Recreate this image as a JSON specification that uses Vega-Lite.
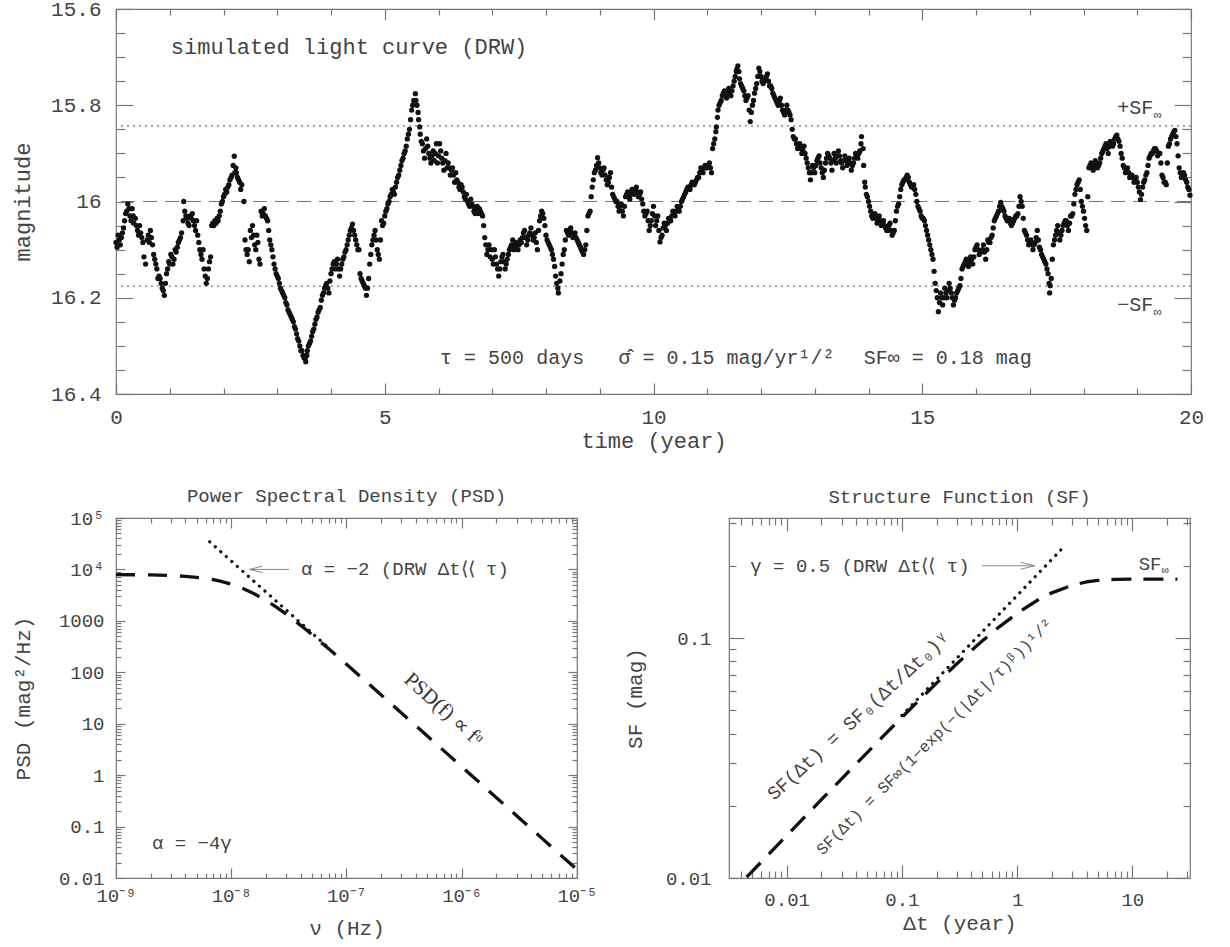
{
  "$schema": "https://vega.github.io/schema/vega-lite/v6.json",
  "padding": {"left": 10, "top": -3, "right": 10, "bottom": 5},
  "bounds": "flush",
  "spacing": 124,
  "config": {
    "font": "Liberation Mono",
    "view": {"stroke": "#777", "strokeWidth": 1.2},
    "axis": {"domain": false, "grid": false, "tickColor": "#777", "tickWidth": 1.2, "labelColor": "#444", "titleColor": "#444", "labelFont": "Liberation Mono", "titleFont": "Liberation Mono", "titleFontWeight": "normal", "labelFontSize": 20, "titleFontSize": 21, "labelFlush": false, "labelOverlap": false, "labelBound": false},
    "text": {"font": "Liberation Mono", "color": "#444"},
    "title": {"font": "Liberation Mono", "fontWeight": "normal", "fontSize": 19, "color": "#444"}
  },
  "vconcat": [
    {
      "width": 1075,
      "height": 385,
      "resolve": {"axis": {"x": "independent", "y": "independent"}},
      "layer": [
        {
          "data": {"values": [{"m": 16}]},
          "mark": {"type": "rule", "color": "#777", "strokeWidth": 1.2, "strokeDash": [14, 8]},
          "encoding": {"y": {"field": "m", "type": "quantitative", "scale": {"domain": [15.6, 16.4], "nice": false, "zero": false, "reverse": true}, "axis": null}}
        },
        {
          "data": {"values": [{"m": 15.843}, {"m": 16.176}]},
          "mark": {"type": "rule", "color": "#777", "strokeWidth": 1.2, "strokeDash": [2, 4]},
          "encoding": {"y": {"field": "m", "type": "quantitative", "scale": {"domain": [15.6, 16.4], "nice": false, "zero": false, "reverse": true}, "axis": null}}
        },
        {
          "data": {"values": [
            {"t":0.00,"m":16.085},{"t":0.04,"m":16.07},{"t":0.08,"m":16.09},{"t":0.12,"m":16.065},{"t":0.16,"m":16.04},{"t":0.20,"m":16.02},{"t":0.22,"m":16.005},{"t":0.26,"m":16.03},{"t":0.30,"m":16.015},{"t":0.33,"m":16.045},
            {"t":0.36,"m":16.035},{"t":0.40,"m":16.06},{"t":0.44,"m":16.05},{"t":0.48,"m":16.075},{"t":0.52,"m":16.115},{"t":0.55,"m":16.13},{"t":0.60,"m":16.07},{"t":0.64,"m":16.06},{"t":0.68,"m":16.09},{"t":0.72,"m":16.12},
            {"t":0.76,"m":16.14},{"t":0.80,"m":16.155},{"t":0.84,"m":16.17},{"t":0.88,"m":16.185},{"t":0.90,"m":16.195},{"t":0.94,"m":16.15},{"t":0.98,"m":16.125},{"t":1.02,"m":16.11},{"t":1.06,"m":16.13},{"t":1.10,"m":16.10},
            {"t":1.14,"m":16.095},{"t":1.18,"m":16.08},{"t":1.22,"m":16.065},{"t":1.25,"m":16.04},{"t":1.26,"m":16.0},{"t":1.30,"m":16.03},{"t":1.34,"m":16.045},{"t":1.38,"m":16.03},{"t":1.42,"m":16.025},{"t":1.46,"m":16.05},
            {"t":1.50,"m":16.04},{"t":1.54,"m":16.085},{"t":1.58,"m":16.11},{"t":1.62,"m":16.10},{"t":1.66,"m":16.155},{"t":1.68,"m":16.17},{"t":1.72,"m":16.14},{"t":1.76,"m":16.115},{"t":1.80,"m":16.045},{"t":1.84,"m":16.04},
            {"t":1.88,"m":16.035},{"t":1.92,"m":16.03},{"t":1.96,"m":16.005},{"t":2.00,"m":15.99},{"t":2.04,"m":15.975},{"t":2.08,"m":15.97},{"t":2.12,"m":15.955},{"t":2.16,"m":15.945},{"t":2.20,"m":15.906},{"t":2.23,"m":15.93},
            {"t":2.26,"m":15.95},{"t":2.30,"m":15.96},{"t":2.34,"m":15.965},{"t":2.38,"m":16.0},{"t":2.40,"m":16.08},{"t":2.44,"m":16.11},{"t":2.48,"m":16.125},{"t":2.50,"m":16.06},{"t":2.54,"m":16.05},{"t":2.58,"m":16.09},
            {"t":2.62,"m":16.07},{"t":2.66,"m":16.12},{"t":2.70,"m":16.02},{"t":2.74,"m":16.025},{"t":2.78,"m":16.03},{"t":2.82,"m":16.04},{"t":2.86,"m":16.08},{"t":2.90,"m":16.10},{"t":2.94,"m":16.13},{"t":2.98,"m":16.15},
            {"t":3.02,"m":16.16},{"t":3.06,"m":16.18},{"t":3.10,"m":16.19},{"t":3.14,"m":16.20},{"t":3.18,"m":16.215},{"t":3.22,"m":16.23},{"t":3.26,"m":16.24},{"t":3.30,"m":16.25},{"t":3.34,"m":16.265},{"t":3.38,"m":16.285},
            {"t":3.42,"m":16.30},{"t":3.46,"m":16.31},{"t":3.50,"m":16.325},{"t":3.53,"m":16.333},{"t":3.56,"m":16.31},{"t":3.60,"m":16.295},{"t":3.64,"m":16.28},{"t":3.68,"m":16.265},{"t":3.72,"m":16.245},{"t":3.76,"m":16.23},
            {"t":3.80,"m":16.22},{"t":3.84,"m":16.195},{"t":3.88,"m":16.18},{"t":3.92,"m":16.17},{"t":3.96,"m":16.19},{"t":4.00,"m":16.15},{"t":4.04,"m":16.13},{"t":4.08,"m":16.14},{"t":4.12,"m":16.12},{"t":4.16,"m":16.155},
            {"t":4.20,"m":16.13},{"t":4.24,"m":16.115},{"t":4.28,"m":16.10},{"t":4.32,"m":16.08},{"t":4.36,"m":16.06},{"t":4.40,"m":16.047},{"t":4.44,"m":16.07},{"t":4.48,"m":16.09},{"t":4.52,"m":16.10},{"t":4.56,"m":16.16},
            {"t":4.60,"m":16.17},{"t":4.64,"m":16.18},{"t":4.66,"m":16.195},{"t":4.70,"m":16.16},{"t":4.74,"m":16.11},{"t":4.78,"m":16.08},{"t":4.82,"m":16.06},{"t":4.86,"m":16.10},{"t":4.90,"m":16.12},{"t":4.94,"m":16.04},
            {"t":4.98,"m":16.045},{"t":5.02,"m":16.02},{"t":5.06,"m":16.005},{"t":5.10,"m":15.99},{"t":5.14,"m":15.975},{"t":5.18,"m":15.985},{"t":5.22,"m":15.96},{"t":5.26,"m":15.945},{"t":5.30,"m":15.925},{"t":5.34,"m":15.91},
            {"t":5.38,"m":15.895},{"t":5.42,"m":15.87},{"t":5.46,"m":15.85},{"t":5.50,"m":15.81},{"t":5.54,"m":15.79},{"t":5.57,"m":15.776},{"t":5.60,"m":15.80},{"t":5.63,"m":15.83},{"t":5.66,"m":15.86},{"t":5.70,"m":15.88},
            {"t":5.74,"m":15.91},{"t":5.78,"m":15.87},{"t":5.82,"m":15.90},{"t":5.86,"m":15.92},{"t":5.90,"m":15.895},{"t":5.94,"m":15.90},{"t":5.98,"m":15.92},{"t":6.02,"m":15.88},{"t":6.06,"m":15.91},{"t":6.10,"m":15.935},
            {"t":6.14,"m":15.90},{"t":6.18,"m":15.92},{"t":6.22,"m":15.945},{"t":6.26,"m":15.93},{"t":6.30,"m":15.96},{"t":6.34,"m":15.955},{"t":6.38,"m":15.97},{"t":6.42,"m":15.965},{"t":6.46,"m":15.98},{"t":6.50,"m":15.995},
            {"t":6.54,"m":16.0},{"t":6.58,"m":16.01},{"t":6.62,"m":16.005},{"t":6.66,"m":16.02},{"t":6.70,"m":16.015},{"t":6.74,"m":16.025},{"t":6.78,"m":16.02},{"t":6.82,"m":16.03},{"t":6.84,"m":16.05},{"t":6.88,"m":16.09},
            {"t":6.92,"m":16.10},{"t":6.96,"m":16.115},{"t":7.00,"m":16.12},{"t":7.04,"m":16.10},{"t":7.08,"m":16.13},{"t":7.12,"m":16.155},{"t":7.16,"m":16.125},{"t":7.20,"m":16.11},{"t":7.24,"m":16.14},{"t":7.28,"m":16.12},
            {"t":7.32,"m":16.10},{"t":7.36,"m":16.09},{"t":7.40,"m":16.10},{"t":7.44,"m":16.085},{"t":7.48,"m":16.10},{"t":7.52,"m":16.08},{"t":7.56,"m":16.075},{"t":7.60,"m":16.06},{"t":7.64,"m":16.09},{"t":7.68,"m":16.07},
            {"t":7.72,"m":16.055},{"t":7.76,"m":16.08},{"t":7.80,"m":16.065},{"t":7.84,"m":16.10},{"t":7.88,"m":16.04},{"t":7.92,"m":16.02},{"t":7.96,"m":16.035},{"t":8.00,"m":16.07},{"t":8.04,"m":16.085},{"t":8.08,"m":16.095},
            {"t":8.12,"m":16.11},{"t":8.16,"m":16.135},{"t":8.20,"m":16.17},{"t":8.23,"m":16.19},{"t":8.26,"m":16.165},{"t":8.30,"m":16.13},{"t":8.34,"m":16.10},{"t":8.38,"m":16.06},{"t":8.42,"m":16.07},{"t":8.46,"m":16.055},
            {"t":8.50,"m":16.075},{"t":8.54,"m":16.065},{"t":8.58,"m":16.08},{"t":8.62,"m":16.09},{"t":8.66,"m":16.10},{"t":8.70,"m":16.11},{"t":8.74,"m":16.09},{"t":8.78,"m":16.03},{"t":8.82,"m":16.02},{"t":8.86,"m":15.97},
            {"t":8.90,"m":15.94},{"t":8.94,"m":15.925},{"t":8.96,"m":15.909},{"t":9.00,"m":15.93},{"t":9.04,"m":15.945},{"t":9.08,"m":15.93},{"t":9.12,"m":15.955},{"t":9.16,"m":15.96},{"t":9.20,"m":15.94},{"t":9.24,"m":15.985},
            {"t":9.28,"m":15.995},{"t":9.32,"m":16.0},{"t":9.36,"m":16.02},{"t":9.40,"m":16.005},{"t":9.44,"m":16.03},{"t":9.48,"m":15.99},{"t":9.52,"m":15.98},{"t":9.56,"m":15.995},{"t":9.60,"m":15.975},{"t":9.64,"m":15.985},
            {"t":9.68,"m":15.97},{"t":9.72,"m":15.99},{"t":9.76,"m":15.98},{"t":9.80,"m":16.005},{"t":9.84,"m":16.03},{"t":9.88,"m":16.02},{"t":9.92,"m":16.06},{"t":9.96,"m":16.04},{"t":10.00,"m":16.01},{"t":10.04,"m":16.05},
            {"t":10.08,"m":16.03},{"t":10.12,"m":16.084},{"t":10.16,"m":16.07},{"t":10.20,"m":16.045},{"t":10.24,"m":16.06},{"t":10.28,"m":16.035},{"t":10.32,"m":16.04},{"t":10.36,"m":16.02},{"t":10.40,"m":16.03},{"t":10.44,"m":16.01},
            {"t":10.48,"m":16.02},{"t":10.52,"m":16.0},{"t":10.56,"m":15.99},{"t":10.60,"m":15.98},{"t":10.64,"m":15.97},{"t":10.68,"m":15.975},{"t":10.72,"m":15.96},{"t":10.76,"m":15.965},{"t":10.80,"m":15.955},{"t":10.84,"m":15.95},
            {"t":10.88,"m":15.93},{"t":10.92,"m":15.94},{"t":10.96,"m":15.925},{"t":11.00,"m":15.93},{"t":11.04,"m":15.92},{"t":11.08,"m":15.94},{"t":11.10,"m":15.89},{"t":11.14,"m":15.87},{"t":11.17,"m":15.845},{"t":11.20,"m":15.81},
            {"t":11.24,"m":15.795},{"t":11.28,"m":15.78},{"t":11.32,"m":15.77},{"t":11.36,"m":15.785},{"t":11.40,"m":15.765},{"t":11.44,"m":15.78},{"t":11.48,"m":15.76},{"t":11.52,"m":15.74},{"t":11.55,"m":15.725},{"t":11.57,"m":15.718},
            {"t":11.60,"m":15.745},{"t":11.64,"m":15.76},{"t":11.68,"m":15.77},{"t":11.72,"m":15.79},{"t":11.76,"m":15.78},{"t":11.80,"m":15.834},{"t":11.84,"m":15.80},{"t":11.88,"m":15.775},{"t":11.92,"m":15.755},{"t":11.96,"m":15.723},
            {"t":12.00,"m":15.74},{"t":12.04,"m":15.755},{"t":12.08,"m":15.745},{"t":12.12,"m":15.735},{"t":12.16,"m":15.76},{"t":12.20,"m":15.765},{"t":12.24,"m":15.78},{"t":12.28,"m":15.79},{"t":12.32,"m":15.80},{"t":12.36,"m":15.785},
            {"t":12.40,"m":15.81},{"t":12.44,"m":15.82},{"t":12.48,"m":15.80},{"t":12.52,"m":15.815},{"t":12.56,"m":15.83},{"t":12.60,"m":15.865},{"t":12.64,"m":15.87},{"t":12.68,"m":15.89},{"t":12.72,"m":15.88},{"t":12.76,"m":15.90},
            {"t":12.80,"m":15.885},{"t":12.84,"m":15.91},{"t":12.88,"m":15.93},{"t":12.92,"m":15.955},{"t":12.96,"m":15.925},{"t":13.00,"m":15.94},{"t":13.04,"m":15.915},{"t":13.08,"m":15.905},{"t":13.12,"m":15.93},{"t":13.16,"m":15.95},
            {"t":13.20,"m":15.92},{"t":13.24,"m":15.90},{"t":13.28,"m":15.91},{"t":13.32,"m":15.935},{"t":13.36,"m":15.90},{"t":13.40,"m":15.92},{"t":13.44,"m":15.895},{"t":13.48,"m":15.915},{"t":13.52,"m":15.93},{"t":13.56,"m":15.905},
            {"t":13.60,"m":15.925},{"t":13.64,"m":15.91},{"t":13.68,"m":15.935},{"t":13.72,"m":15.92},{"t":13.76,"m":15.90},{"t":13.80,"m":15.91},{"t":13.84,"m":15.895},{"t":13.87,"m":15.865},{"t":13.90,"m":15.89},{"t":13.93,"m":15.96},
            {"t":13.96,"m":15.985},{"t":14.00,"m":16.0},{"t":14.04,"m":16.02},{"t":14.08,"m":16.035},{"t":14.12,"m":16.025},{"t":14.16,"m":16.045},{"t":14.20,"m":16.03},{"t":14.24,"m":16.05},{"t":14.28,"m":16.04},{"t":14.32,"m":16.055},
            {"t":14.36,"m":16.06},{"t":14.40,"m":16.045},{"t":14.44,"m":16.07},{"t":14.48,"m":16.06},{"t":14.52,"m":16.02},{"t":14.56,"m":16.005},{"t":14.60,"m":15.975},{"t":14.64,"m":15.96},{"t":14.68,"m":15.955},{"t":14.72,"m":15.945},
            {"t":14.76,"m":15.96},{"t":14.80,"m":15.97},{"t":14.84,"m":15.965},{"t":14.88,"m":15.985},{"t":14.92,"m":16.01},{"t":14.96,"m":16.02},{"t":15.00,"m":16.035},{"t":15.04,"m":16.04},{"t":15.08,"m":16.06},{"t":15.12,"m":16.08},
            {"t":15.16,"m":16.10},{"t":15.20,"m":16.12},{"t":15.24,"m":16.17},{"t":15.28,"m":16.20},{"t":15.30,"m":16.229},{"t":15.34,"m":16.19},{"t":15.38,"m":16.215},{"t":15.42,"m":16.18},{"t":15.46,"m":16.20},{"t":15.50,"m":16.17},
            {"t":15.54,"m":16.19},{"t":15.58,"m":16.215},{"t":15.62,"m":16.20},{"t":15.66,"m":16.185},{"t":15.70,"m":16.175},{"t":15.74,"m":16.14},{"t":15.78,"m":16.13},{"t":15.82,"m":16.12},{"t":15.86,"m":16.135},{"t":15.90,"m":16.115},
            {"t":15.94,"m":16.13},{"t":15.98,"m":16.10},{"t":16.02,"m":16.09},{"t":16.06,"m":16.11},{"t":16.10,"m":16.105},{"t":16.14,"m":16.09},{"t":16.18,"m":16.12},{"t":16.22,"m":16.08},{"t":16.26,"m":16.085},{"t":16.30,"m":16.07},
            {"t":16.34,"m":16.04},{"t":16.38,"m":16.03},{"t":16.42,"m":16.02},{"t":16.46,"m":16.002},{"t":16.50,"m":16.015},{"t":16.54,"m":16.03},{"t":16.58,"m":16.04},{"t":16.62,"m":16.035},{"t":16.66,"m":16.05},{"t":16.70,"m":16.04},
            {"t":16.74,"m":16.03},{"t":16.78,"m":16.025},{"t":16.82,"m":15.99},{"t":16.86,"m":16.01},{"t":16.90,"m":16.06},{"t":16.94,"m":16.07},{"t":16.98,"m":16.09},{"t":17.02,"m":16.08},{"t":17.06,"m":16.10},{"t":17.10,"m":16.085},
            {"t":17.14,"m":16.06},{"t":17.18,"m":16.095},{"t":17.22,"m":16.11},{"t":17.26,"m":16.12},{"t":17.30,"m":16.13},{"t":17.34,"m":16.15},{"t":17.37,"m":16.19},{"t":17.40,"m":16.16},{"t":17.44,"m":16.09},{"t":17.48,"m":16.07},
            {"t":17.52,"m":16.05},{"t":17.56,"m":16.08},{"t":17.60,"m":16.06},{"t":17.64,"m":16.045},{"t":17.68,"m":16.04},{"t":17.72,"m":16.06},{"t":17.76,"m":16.03},{"t":17.80,"m":16.025},{"t":17.84,"m":15.985},{"t":17.88,"m":15.965},
            {"t":17.92,"m":15.955},{"t":17.96,"m":16.0},{"t":18.00,"m":16.02},{"t":18.04,"m":16.05},{"t":18.06,"m":16.06},{"t":18.10,"m":15.93},{"t":18.14,"m":15.92},{"t":18.18,"m":15.935},{"t":18.22,"m":15.915},{"t":18.26,"m":15.93},
            {"t":18.30,"m":15.92},{"t":18.34,"m":15.90},{"t":18.38,"m":15.89},{"t":18.42,"m":15.88},{"t":18.46,"m":15.90},{"t":18.50,"m":15.875},{"t":18.54,"m":15.885},{"t":18.58,"m":15.87},{"t":18.62,"m":15.862},{"t":18.66,"m":15.875},
            {"t":18.70,"m":15.90},{"t":18.74,"m":15.925},{"t":18.78,"m":15.94},{"t":18.82,"m":15.93},{"t":18.86,"m":15.95},{"t":18.90,"m":15.945},{"t":18.94,"m":15.96},{"t":18.98,"m":15.95},{"t":19.02,"m":15.97},{"t":19.06,"m":15.996},
            {"t":19.10,"m":15.97},{"t":19.14,"m":15.955},{"t":19.18,"m":15.94},{"t":19.22,"m":15.91},{"t":19.26,"m":15.90},{"t":19.30,"m":15.895},{"t":19.34,"m":15.89},{"t":19.38,"m":15.905},{"t":19.42,"m":15.90},{"t":19.46,"m":15.945},
            {"t":19.50,"m":15.96},{"t":19.54,"m":15.965},{"t":19.58,"m":15.885},{"t":19.62,"m":15.87},{"t":19.66,"m":15.86},{"t":19.70,"m":15.852},{"t":19.74,"m":15.88},{"t":19.78,"m":15.93},{"t":19.82,"m":15.95},{"t":19.86,"m":15.94},
            {"t":19.90,"m":15.955},{"t":19.94,"m":15.97},{"t":19.98,"m":15.987},
            {"t":0.02,"m":16.095},{"t":0.06,"m":16.08},{"t":0.10,"m":16.075},{"t":0.14,"m":16.055},{"t":0.18,"m":16.025},{"t":0.24,"m":16.015},{"t":0.28,"m":16.04},{"t":0.32,"m":16.03},{"t":0.38,"m":16.05},{"t":0.42,"m":16.07},
            {"t":0.46,"m":16.065},{"t":0.50,"m":16.085},{"t":0.58,"m":16.08},{"t":0.62,"m":16.085},{"t":0.66,"m":16.075},{"t":0.70,"m":16.11},{"t":0.74,"m":16.13},{"t":0.78,"m":16.16},{"t":0.82,"m":16.16},{"t":0.86,"m":16.18},
            {"t":0.92,"m":16.17},{"t":0.96,"m":16.14},{"t":1.00,"m":16.13},{"t":1.04,"m":16.115},{"t":1.08,"m":16.12},{"t":1.12,"m":16.105},{"t":1.16,"m":16.085},{"t":1.20,"m":16.075},{"t":1.28,"m":16.02},{"t":1.32,"m":16.035},
            {"t":1.36,"m":16.05},{"t":1.40,"m":16.035},{"t":1.44,"m":16.04},{"t":1.48,"m":16.06},{"t":1.52,"m":16.07},{"t":1.56,"m":16.10},{"t":1.60,"m":16.12},{"t":1.64,"m":16.14},{"t":1.70,"m":16.16},{"t":1.74,"m":16.125},
            {"t":1.78,"m":16.05},{"t":1.82,"m":16.05},{"t":1.86,"m":16.045},{"t":1.90,"m":16.04},{"t":1.94,"m":16.02},{"t":1.98,"m":16.0},{"t":2.02,"m":15.985},{"t":2.06,"m":15.98},{"t":2.10,"m":15.965},{"t":2.14,"m":15.95},
            {"t":2.18,"m":15.925},{"t":2.21,"m":15.94},{"t":2.24,"m":15.94},{"t":2.28,"m":15.955},{"t":2.32,"m":15.975},{"t":2.42,"m":16.10},{"t":2.46,"m":16.10},{"t":2.52,"m":16.075},{"t":2.56,"m":16.07},{"t":2.60,"m":16.10},
            {"t":2.64,"m":16.085},{"t":2.68,"m":16.13},{"t":2.72,"m":16.03},{"t":2.76,"m":16.015},{"t":2.80,"m":16.035},{"t":2.84,"m":16.06},{"t":2.88,"m":16.09},{"t":2.92,"m":16.115},{"t":2.96,"m":16.14},{"t":3.00,"m":16.155},
            {"t":3.04,"m":16.17},{"t":3.08,"m":16.185},{"t":3.12,"m":16.195},{"t":3.16,"m":16.21},{"t":3.20,"m":16.225},{"t":3.24,"m":16.235},{"t":3.28,"m":16.245},{"t":3.32,"m":16.26},{"t":3.36,"m":16.275},{"t":3.40,"m":16.29},
            {"t":3.44,"m":16.31},{"t":3.48,"m":16.32},{"t":3.52,"m":16.325},{"t":3.55,"m":16.32},{"t":3.58,"m":16.30},{"t":3.62,"m":16.29},{"t":3.66,"m":16.27},{"t":3.70,"m":16.255},{"t":3.74,"m":16.24},{"t":3.78,"m":16.225},
            {"t":3.82,"m":16.205},{"t":3.86,"m":16.19},{"t":3.90,"m":16.175},{"t":3.94,"m":16.18},{"t":3.98,"m":16.165},{"t":4.02,"m":16.14},{"t":4.06,"m":16.125},{"t":4.10,"m":16.13},{"t":4.14,"m":16.14},{"t":4.18,"m":16.14},
            {"t":4.22,"m":16.12},{"t":4.26,"m":16.105},{"t":4.30,"m":16.09},{"t":4.34,"m":16.07},{"t":4.38,"m":16.055},{"t":4.42,"m":16.06},{"t":4.46,"m":16.08},{"t":4.50,"m":16.10},{"t":4.54,"m":16.15},{"t":4.58,"m":16.165},
            {"t":4.62,"m":16.175},{"t":4.68,"m":16.18},{"t":4.72,"m":16.13},{"t":4.76,"m":16.09},{"t":4.80,"m":16.07},{"t":4.84,"m":16.08},{"t":4.88,"m":16.11},{"t":4.92,"m":16.08},{"t":4.96,"m":16.05},{"t":5.00,"m":16.03},
            {"t":5.04,"m":16.015},{"t":5.08,"m":16.0},{"t":5.12,"m":15.985},{"t":5.16,"m":15.98},{"t":5.20,"m":15.97},{"t":5.24,"m":15.95},{"t":5.28,"m":15.935},{"t":5.32,"m":15.915},{"t":5.36,"m":15.90},{"t":5.40,"m":15.885},
            {"t":5.44,"m":15.86},{"t":5.48,"m":15.83},{"t":5.52,"m":15.80},{"t":5.58,"m":15.79},{"t":5.62,"m":15.815},{"t":5.65,"m":15.845},{"t":5.68,"m":15.875},{"t":5.72,"m":15.895},{"t":5.76,"m":15.89},{"t":5.80,"m":15.885},
            {"t":5.84,"m":15.91},{"t":5.88,"m":15.905},{"t":5.92,"m":15.915},{"t":5.96,"m":15.88},{"t":6.00,"m":15.905},{"t":6.04,"m":15.895},{"t":6.08,"m":15.92},{"t":6.12,"m":15.915},{"t":6.16,"m":15.93},{"t":6.20,"m":15.93},
            {"t":6.24,"m":15.935},{"t":6.28,"m":15.945},{"t":6.32,"m":15.94},{"t":6.36,"m":15.96},{"t":6.40,"m":15.975},{"t":6.44,"m":15.97},{"t":6.48,"m":15.99},{"t":6.52,"m":15.985},{"t":6.56,"m":16.005},{"t":6.60,"m":15.995},
            {"t":6.64,"m":16.01},{"t":6.68,"m":16.025},{"t":6.72,"m":16.01},{"t":6.76,"m":16.015},{"t":6.80,"m":16.025},{"t":6.86,"m":16.075},{"t":6.90,"m":16.11},{"t":6.94,"m":16.09},{"t":6.98,"m":16.10},{"t":7.02,"m":16.13},
            {"t":7.06,"m":16.115},{"t":7.10,"m":16.14},{"t":7.14,"m":16.14},{"t":7.18,"m":16.115},{"t":7.22,"m":16.125},{"t":7.26,"m":16.13},{"t":7.30,"m":16.11},{"t":7.34,"m":16.095},{"t":7.38,"m":16.08},{"t":7.42,"m":16.095},
            {"t":7.46,"m":16.09},{"t":7.50,"m":16.09},{"t":7.54,"m":16.085},{"t":7.58,"m":16.065},{"t":7.62,"m":16.075},{"t":7.66,"m":16.08},{"t":7.70,"m":16.065},{"t":7.74,"m":16.07},{"t":7.78,"m":16.075},{"t":7.82,"m":16.085},
            {"t":7.86,"m":16.06},{"t":7.90,"m":16.03},{"t":7.94,"m":16.025},{"t":7.98,"m":16.05},{"t":8.02,"m":16.08},{"t":8.06,"m":16.09},{"t":8.10,"m":16.10},{"t":8.14,"m":16.12},{"t":8.18,"m":16.155},{"t":8.22,"m":16.18},
            {"t":8.28,"m":16.15},{"t":8.32,"m":16.11},{"t":8.36,"m":16.08},{"t":8.40,"m":16.065},{"t":8.44,"m":16.06},{"t":8.48,"m":16.065},{"t":8.52,"m":16.07},{"t":8.56,"m":16.075},{"t":8.60,"m":16.085},{"t":8.64,"m":16.095},
            {"t":8.68,"m":16.105},{"t":8.72,"m":16.10},{"t":8.76,"m":16.06},{"t":8.80,"m":16.025},{"t":8.84,"m":15.99},{"t":8.88,"m":15.955},{"t":8.92,"m":15.935},{"t":8.98,"m":15.92},{"t":9.02,"m":15.94},{"t":9.06,"m":15.935},
            {"t":9.10,"m":15.945},{"t":9.14,"m":15.965},{"t":9.18,"m":15.95},{"t":9.22,"m":15.97},{"t":9.26,"m":15.99},{"t":9.30,"m":16.0},{"t":9.34,"m":16.01},{"t":9.38,"m":16.01},{"t":9.42,"m":16.02},{"t":9.46,"m":16.01},
            {"t":9.50,"m":15.985},{"t":9.54,"m":15.99},{"t":9.58,"m":15.985},{"t":9.62,"m":15.98},{"t":9.66,"m":15.975},{"t":9.70,"m":15.98},{"t":9.74,"m":15.985},{"t":9.78,"m":15.995},{"t":9.82,"m":16.02},{"t":9.86,"m":16.025},
            {"t":9.90,"m":16.04},{"t":9.94,"m":16.05},{"t":9.98,"m":16.025},{"t":10.02,"m":16.03},{"t":10.06,"m":16.04},{"t":10.10,"m":16.06},{"t":10.14,"m":16.075},{"t":10.18,"m":16.055},{"t":10.22,"m":16.05},{"t":10.26,"m":16.045},
            {"t":10.30,"m":16.04},{"t":10.34,"m":16.03},{"t":10.38,"m":16.025},{"t":10.42,"m":16.02},{"t":10.46,"m":16.015},{"t":10.50,"m":16.01},{"t":10.54,"m":15.995},{"t":10.58,"m":15.985},{"t":10.62,"m":15.975},{"t":10.66,"m":15.97},
            {"t":10.70,"m":15.965},{"t":10.74,"m":15.965},{"t":10.78,"m":15.96},{"t":10.82,"m":15.95},{"t":10.86,"m":15.94},{"t":10.90,"m":15.935},{"t":10.94,"m":15.93},{"t":10.98,"m":15.93},{"t":11.02,"m":15.925},{"t":11.06,"m":15.93},
            {"t":11.12,"m":15.88},{"t":11.16,"m":15.855},{"t":11.19,"m":15.825},{"t":11.22,"m":15.80},{"t":11.26,"m":15.79},{"t":11.30,"m":15.775},{"t":11.34,"m":15.78},{"t":11.38,"m":15.775},{"t":11.42,"m":15.77},{"t":11.46,"m":15.77},
            {"t":11.50,"m":15.75},{"t":11.54,"m":15.73},{"t":11.59,"m":15.73},{"t":11.62,"m":15.755},{"t":11.66,"m":15.765},{"t":11.70,"m":15.78},{"t":11.74,"m":15.785},{"t":11.78,"m":15.81},{"t":11.82,"m":15.815},{"t":11.86,"m":15.79},
            {"t":11.90,"m":15.765},{"t":11.94,"m":15.74},{"t":11.98,"m":15.73},{"t":12.02,"m":15.75},{"t":12.06,"m":15.75},{"t":12.10,"m":15.74},{"t":12.14,"m":15.75},{"t":12.18,"m":15.76},{"t":12.22,"m":15.775},{"t":12.26,"m":15.785},
            {"t":12.30,"m":15.795},{"t":12.34,"m":15.79},{"t":12.38,"m":15.80},{"t":12.42,"m":15.815},{"t":12.46,"m":15.81},{"t":12.50,"m":15.81},{"t":12.54,"m":15.82},{"t":12.58,"m":15.85},{"t":12.62,"m":15.87},{"t":12.66,"m":15.88},
            {"t":12.70,"m":15.885},{"t":12.74,"m":15.89},{"t":12.78,"m":15.895},{"t":12.82,"m":15.90},{"t":12.86,"m":15.92},{"t":12.90,"m":15.94},{"t":12.94,"m":15.94},{"t":12.98,"m":15.93},{"t":13.02,"m":15.925},{"t":13.06,"m":15.91},
            {"t":13.10,"m":15.92},{"t":13.14,"m":15.94},{"t":13.18,"m":15.935},{"t":13.22,"m":15.91},{"t":13.26,"m":15.905},{"t":13.30,"m":15.92},{"t":13.34,"m":15.915},{"t":13.38,"m":15.91},{"t":13.42,"m":15.905},{"t":13.46,"m":15.905},
            {"t":13.50,"m":15.92},{"t":13.54,"m":15.915},{"t":13.58,"m":15.915},{"t":13.62,"m":15.915},{"t":13.66,"m":15.92},{"t":13.70,"m":15.925},{"t":13.74,"m":15.91},{"t":13.78,"m":15.905},{"t":13.82,"m":15.90},{"t":13.86,"m":15.88},
            {"t":13.91,"m":15.925},{"t":13.94,"m":15.97},{"t":13.98,"m":15.99},{"t":14.02,"m":16.01},{"t":14.06,"m":16.03},{"t":14.10,"m":16.03},{"t":14.14,"m":16.035},{"t":14.18,"m":16.04},{"t":14.22,"m":16.04},{"t":14.26,"m":16.045},
            {"t":14.30,"m":16.05},{"t":14.34,"m":16.06},{"t":14.38,"m":16.05},{"t":14.42,"m":16.06},{"t":14.46,"m":16.065},{"t":14.50,"m":16.04},{"t":14.54,"m":16.01},{"t":14.58,"m":15.99},{"t":14.62,"m":15.965},{"t":14.66,"m":15.955},
            {"t":14.70,"m":15.95},{"t":14.74,"m":15.95},{"t":14.78,"m":15.965},{"t":14.82,"m":15.97},{"t":14.86,"m":15.975},{"t":14.90,"m":16.0},{"t":14.94,"m":16.015},{"t":14.98,"m":16.03},{"t":15.02,"m":16.035},{"t":15.06,"m":16.05},
            {"t":15.10,"m":16.07},{"t":15.14,"m":16.09},{"t":15.18,"m":16.11},{"t":15.22,"m":16.145},{"t":15.26,"m":16.185},{"t":15.32,"m":16.21},{"t":15.36,"m":16.20},{"t":15.40,"m":16.20},{"t":15.44,"m":16.19},{"t":15.48,"m":16.185},
            {"t":15.52,"m":16.18},{"t":15.56,"m":16.20},{"t":15.60,"m":16.205},{"t":15.64,"m":16.19},{"t":15.68,"m":16.18},{"t":15.72,"m":16.16},{"t":15.76,"m":16.135},{"t":15.80,"m":16.125},{"t":15.84,"m":16.125},{"t":15.88,"m":16.125},
            {"t":15.92,"m":16.12},{"t":15.96,"m":16.115},{"t":16.00,"m":16.095},{"t":16.04,"m":16.10},{"t":16.08,"m":16.105},{"t":16.12,"m":16.10},{"t":16.16,"m":16.105},{"t":16.20,"m":16.10},{"t":16.24,"m":16.085},{"t":16.28,"m":16.075},
            {"t":16.32,"m":16.055},{"t":16.36,"m":16.035},{"t":16.40,"m":16.025},{"t":16.44,"m":16.01},{"t":16.48,"m":16.01},{"t":16.52,"m":16.02},{"t":16.56,"m":16.035},{"t":16.60,"m":16.035},{"t":16.64,"m":16.045},{"t":16.68,"m":16.045},
            {"t":16.72,"m":16.035},{"t":16.76,"m":16.03},{"t":16.80,"m":16.01},{"t":16.84,"m":16.0},{"t":16.88,"m":16.035},{"t":16.92,"m":16.065},{"t":16.96,"m":16.08},{"t":17.00,"m":16.085},{"t":17.04,"m":16.09},{"t":17.08,"m":16.09},
            {"t":17.12,"m":16.075},{"t":17.16,"m":16.08},{"t":17.20,"m":16.10},{"t":17.24,"m":16.115},{"t":17.28,"m":16.125},{"t":17.32,"m":16.14},{"t":17.36,"m":16.17},{"t":17.38,"m":16.175},{"t":17.42,"m":16.12},{"t":17.46,"m":16.08},
            {"t":17.50,"m":16.06},{"t":17.54,"m":16.065},{"t":17.58,"m":16.07},{"t":17.62,"m":16.05},{"t":17.66,"m":16.04},{"t":17.70,"m":16.05},{"t":17.74,"m":16.045},{"t":17.78,"m":16.03},{"t":17.82,"m":16.005},{"t":17.86,"m":15.975},
            {"t":17.90,"m":15.96},{"t":17.94,"m":15.975},{"t":17.98,"m":16.01},{"t":18.02,"m":16.035},{"t":18.08,"m":15.99},{"t":18.12,"m":15.925},{"t":18.16,"m":15.93},{"t":18.20,"m":15.925},{"t":18.24,"m":15.92},{"t":18.28,"m":15.925},
            {"t":18.32,"m":15.91},{"t":18.36,"m":15.895},{"t":18.40,"m":15.885},{"t":18.44,"m":15.89},{"t":18.48,"m":15.885},{"t":18.52,"m":15.88},{"t":18.56,"m":15.88},{"t":18.60,"m":15.865},{"t":18.64,"m":15.87},{"t":18.68,"m":15.885},
            {"t":18.72,"m":15.91},{"t":18.76,"m":15.93},{"t":18.80,"m":15.935},{"t":18.84,"m":15.94},{"t":18.88,"m":15.945},{"t":18.92,"m":15.95},{"t":18.96,"m":15.955},{"t":19.00,"m":15.96},{"t":19.04,"m":15.98},{"t":19.08,"m":15.985},
            {"t":19.12,"m":15.96},{"t":19.16,"m":15.945},{"t":19.20,"m":15.925},{"t":19.24,"m":15.905},{"t":19.28,"m":15.90},{"t":19.32,"m":15.89},{"t":19.36,"m":15.895},{"t":19.40,"m":15.90},{"t":19.44,"m":15.92},{"t":19.48,"m":15.95},
            {"t":19.52,"m":15.96},{"t":19.56,"m":15.92},{"t":19.60,"m":15.88},{"t":19.64,"m":15.865},{"t":19.68,"m":15.855},{"t":19.72,"m":15.865},{"t":19.76,"m":15.905},{"t":19.80,"m":15.94},{"t":19.84,"m":15.945},{"t":19.88,"m":15.945},
            {"t":19.92,"m":15.96},{"t":19.96,"m":15.975}
          ]},
          "mark": {"type": "circle", "size": 28, "color": "#111", "opacity": 1},
          "encoding": {
            "x": {"field": "t", "type": "quantitative", "scale": {"domain": [0, 20], "nice": false, "zero": false},
                  "axis": {"orient": "bottom", "values": [0, 5, 10, 15, 20], "tickSize": -11, "labelPadding": 23, "labelExpr": "'' + datum.value", "labelFontSize": 21, "title": "time (year)", "titleFontSize": 22, "titlePadding": 3}},
            "y": {"field": "m", "type": "quantitative", "scale": {"domain": [15.6, 16.4], "nice": false, "zero": false, "reverse": true},
                  "axis": {"orient": "left", "values": [15.6, 15.8, 16, 16.2, 16.4], "tickSize": -17, "labelPadding": 32, "labelExpr": "'' + datum.value", "labelFontSize": 21, "title": "magnitude", "titleFontSize": 22, "titlePadding": 16}}
          }
        },
        {
          "data": {"values": [{"x": 1.02, "y": 15.678, "label": "simulated light curve (DRW)"}]},
          "mark": {"type": "text", "align": "left", "baseline": "middle", "fontSize": 22},
          "encoding": {
            "text": {"field": "label"},
            "x": {"field": "x", "type": "quantitative", "scale": {"domain": [0, 20], "nice": false, "zero": false},
                  "axis": {"orient": "bottom", "values": [1, 2, 3, 4, 6, 7, 8, 9, 11, 12, 13, 14, 16, 17, 18, 19], "tickSize": -6, "labels": false, "title": null}},
            "y": {"field": "y", "type": "quantitative", "scale": {"domain": [15.6, 16.4], "nice": false, "zero": false, "reverse": true},
                  "axis": {"orient": "left", "values": [15.65, 15.7, 15.75, 15.85, 15.9, 15.95, 16.05, 16.1, 16.15, 16.25, 16.3, 16.35], "tickSize": -9, "labels": false, "title": null}}
          }
        },
        {
          "data": {"values": [
            {"x": 6.03, "y": 16.325, "label": "τ = 500 days"},
            {"x": 9.35, "y": 16.325, "label": "σ̂ = 0.15 mag/yr¹/²"},
            {"x": 13.91, "y": 16.325, "label": "SF∞ = 0.18 mag"}
          ]},
          "mark": {"type": "text", "align": "left", "baseline": "middle", "fontSize": 20},
          "encoding": {
            "text": {"field": "label"},
            "x": {"field": "x", "type": "quantitative", "scale": {"domain": [0, 20], "nice": false, "zero": false},
                  "axis": {"orient": "top", "values": [0, 5, 10, 15, 20], "tickSize": -11, "labels": false, "title": null}},
            "y": {"field": "y", "type": "quantitative", "scale": {"domain": [15.6, 16.4], "nice": false, "zero": false, "reverse": true},
                  "axis": {"orient": "right", "values": [15.6, 15.8, 16, 16.2, 16.4], "tickSize": -17, "labels": false, "title": null}}
          }
        },
        {
          "data": {"values": [
            {"x": 19.3, "y": 15.806, "label": "+SF"},
            {"x": 19.3, "y": 16.215, "label": "−SF"}
          ]},
          "mark": {"type": "text", "align": "right", "baseline": "middle", "fontSize": 20},
          "encoding": {
            "text": {"field": "label"},
            "x": {"field": "x", "type": "quantitative", "scale": {"domain": [0, 20], "nice": false, "zero": false},
                  "axis": {"orient": "top", "values": [1, 2, 3, 4, 6, 7, 8, 9, 11, 12, 13, 14, 16, 17, 18, 19], "tickSize": -6, "labels": false, "title": null}},
            "y": {"field": "y", "type": "quantitative", "scale": {"domain": [15.6, 16.4], "nice": false, "zero": false, "reverse": true},
                  "axis": {"orient": "right", "values": [15.65, 15.7, 15.75, 15.85, 15.9, 15.95, 16.05, 16.1, 16.15, 16.25, 16.3, 16.35], "tickSize": -9, "labels": false, "title": null}}
          }
        },
        {
          "data": {"values": [{"x": 19.3, "y": 15.821}, {"x": 19.3, "y": 16.23}]},
          "mark": {"type": "text", "align": "left", "baseline": "middle", "fontSize": 13, "text": "∞"},
          "encoding": {
            "x": {"field": "x", "type": "quantitative", "scale": {"domain": [0, 20], "nice": false, "zero": false}, "axis": null},
            "y": {"field": "y", "type": "quantitative", "scale": {"domain": [15.6, 16.4], "nice": false, "zero": false, "reverse": true}, "axis": null}
          }
        }
      ]
    },
    {
      "bounds": "flush",
      "spacing": 152,
      "hconcat": [
        {
          "title": {"text": "Power Spectral Density (PSD)", "offset": 3},
          "width": 461,
          "height": 360,
          "resolve": {"axis": {"x": "independent", "y": "independent"}},
          "layer": [
            {
              "data": {"values": [
                {"f": 1e-9, "p": 7956}, {"f": 2e-9, "p": 7828}, {"f": 3e-9, "p": 7623}, {"f": 4e-9, "p": 7354}, {"f": 5e-9, "p": 7035},
                {"f": 6e-9, "p": 6680}, {"f": 7e-9, "p": 6305}, {"f": 8e-9, "p": 5920}, {"f": 1e-8, "p": 5166}, {"f": 1.2e-8, "p": 4469},
                {"f": 1.5e-8, "p": 3580}, {"f": 2e-8, "p": 2504}, {"f": 2.5e-8, "p": 1806}, {"f": 3e-8, "p": 1347}, {"f": 4e-8, "p": 818},
                {"f": 5e-8, "p": 543}, {"f": 7e-8, "p": 287}, {"f": 1e-7, "p": 143.2}, {"f": 2e-7, "p": 36.3}, {"f": 5e-7, "p": 5.83},
                {"f": 1e-6, "p": 1.458}, {"f": 2e-6, "p": 0.3645}, {"f": 5e-6, "p": 0.0583}, {"f": 1e-5, "p": 0.01458}
              ]},
              "mark": {"type": "line", "color": "#111", "strokeWidth": 3.3, "strokeDash": [19, 13]},
              "encoding": {
                "x": {"field": "f", "type": "quantitative", "scale": {"type": "log", "domain": [1e-9, 1e-5], "nice": false},
                      "axis": {"orient": "bottom", "values": [1e-9, 1e-8, 1e-7, 1e-6, 1e-5], "tickSize": -10, "labelPadding": 18, "labelFontSize": 19,
                               "labelExpr": "'10⁻' + ['⁰','¹','²','³','⁴','⁵','⁶','⁷','⁸','⁹'][-round(log(datum.value)/LN10)]",
                               "title": "ν (Hz)", "titlePadding": 12}},
                "y": {"field": "p", "type": "quantitative", "scale": {"type": "log", "domain": [0.01, 100000], "nice": false},
                      "axis": {"orient": "left", "values": [0.01, 0.1, 1, 10, 100, 1000, 10000, 100000], "tickSize": -9, "labelPadding": 21, "labelFontSize": 19,
                               "labelExpr": "datum.value >= 100000 ? '10⁵' : datum.value >= 10000 ? '10⁴' : '' + datum.value",
                               "title": "PSD (mag²/Hz)", "titlePadding": 25}}
              }
            },
            {
              "data": {"values": [{"f": 6.5e-9, "p": 34500}, {"f": 1e-8, "p": 14580}, {"f": 2e-8, "p": 3645}, {"f": 4e-8, "p": 911}, {"f": 7e-8, "p": 297.6}]},
              "mark": {"type": "line", "color": "#111", "strokeWidth": 3.2, "strokeDash": [0.1, 7.3], "strokeCap": "round"},
              "encoding": {
                "x": {"field": "f", "type": "quantitative", "scale": {"type": "log", "domain": [1e-9, 1e-5], "nice": false},
                      "axis": {"orient": "bottom", "values": [2e-9,3e-9,4e-9,5e-9,6e-9,7e-9,8e-9,9e-9,2e-8,3e-8,4e-8,5e-8,6e-8,7e-8,8e-8,9e-8,2e-7,3e-7,4e-7,5e-7,6e-7,7e-7,8e-7,9e-7,2e-6,3e-6,4e-6,5e-6,6e-6,7e-6,8e-6,9e-6], "tickSize": -5, "labels": false, "title": null}},
                "y": {"field": "p", "type": "quantitative", "scale": {"type": "log", "domain": [0.01, 100000], "nice": false},
                      "axis": {"orient": "left", "values": [0.02,0.03,0.04,0.05,0.06,0.07,0.08,0.09,0.2,0.3,0.4,0.5,0.6,0.7,0.8,0.9,2,3,4,5,6,7,8,9,20,30,40,50,60,70,80,90,200,300,400,500,600,700,800,900,2000,3000,4000,5000,6000,7000,8000,9000,20000,30000,40000,50000,60000,70000,80000,90000], "tickSize": -5, "labels": false, "title": null}}
              }
            },
            {
              "data": {"values": [{"f1": 1.44e-8, "f2": 3.17e-8, "p": 10000}]},
              "mark": {"type": "rule", "color": "#888", "strokeWidth": 1},
              "encoding": {
                "x": {"field": "f1", "type": "quantitative", "scale": {"type": "log", "domain": [1e-9, 1e-5], "nice": false},
                      "axis": {"orient": "top", "values": [1e-9, 1e-8, 1e-7, 1e-6, 1e-5], "tickSize": -10, "labels": false, "title": null}},
                "x2": {"field": "f2"},
                "y": {"field": "p", "type": "quantitative", "scale": {"type": "log", "domain": [0.01, 100000], "nice": false},
                      "axis": {"orient": "right", "values": [0.01, 0.1, 1, 10, 100, 1000, 10000, 100000], "tickSize": -9, "labels": false, "title": null}}
              }
            },
            {
              "data": {"values": [{"f": 1.44e-8, "p": 10000}]},
              "mark": {"type": "point", "shape": "M2,-0.5L0,0L2,0.5", "size": 169, "filled": false, "color": "#888", "strokeWidth": 1, "opacity": 1},
              "encoding": {
                "x": {"field": "f", "type": "quantitative", "scale": {"type": "log", "domain": [1e-9, 1e-5], "nice": false},
                      "axis": {"orient": "top", "values": [2e-9,3e-9,4e-9,5e-9,6e-9,7e-9,8e-9,9e-9,2e-8,3e-8,4e-8,5e-8,6e-8,7e-8,8e-8,9e-8,2e-7,3e-7,4e-7,5e-7,6e-7,7e-7,8e-7,9e-7,2e-6,3e-6,4e-6,5e-6,6e-6,7e-6,8e-6,9e-6], "tickSize": -5, "labels": false, "title": null}},
                "y": {"field": "p", "type": "quantitative", "scale": {"type": "log", "domain": [0.01, 100000], "nice": false},
                      "axis": {"orient": "right", "values": [0.02,0.03,0.04,0.05,0.06,0.07,0.08,0.09,0.2,0.3,0.4,0.5,0.6,0.7,0.8,0.9,2,3,4,5,6,7,8,9,20,30,40,50,60,70,80,90,200,300,400,500,600,700,800,900,2000,3000,4000,5000,6000,7000,8000,9000,20000,30000,40000,50000,60000,70000,80000,90000], "tickSize": -5, "labels": false, "title": null}}
              }
            },
            {
              "data": {"values": [
                {"f": 4.03e-8, "p": 10000, "label": "α = −2 (DRW Δt⟨⟨ τ)"},
                {"f": 2.05e-9, "p": 0.049, "label": "α = −4γ"}
              ]},
              "mark": {"type": "text", "align": "left", "baseline": "middle", "fontSize": 19},
              "encoding": {
                "text": {"field": "label"},
                "x": {"field": "f", "type": "quantitative", "scale": {"type": "log", "domain": [1e-9, 1e-5], "nice": false}, "axis": null},
                "y": {"field": "p", "type": "quantitative", "scale": {"type": "log", "domain": [0.01, 100000], "nice": false}, "axis": null}
              }
            },
            {
              "data": {"values": [{"f": 6.95e-7, "p": 18.7, "label": "PSD(f) ∝ fᵅ"}]},
              "mark": {"type": "text", "align": "center", "baseline": "middle", "fontSize": 21, "font": "Liberation Serif", "angle": 42, "color": "#333"},
              "encoding": {
                "text": {"field": "label"},
                "x": {"field": "f", "type": "quantitative", "scale": {"type": "log", "domain": [1e-9, 1e-5], "nice": false}, "axis": null},
                "y": {"field": "p", "type": "quantitative", "scale": {"type": "log", "domain": [0.01, 100000], "nice": false}, "axis": null}
              }
            }
          ]
        },
        {
          "title": {"text": "Structure Function (SF)", "offset": 10},
          "width": 461,
          "height": 360,
          "resolve": {"axis": {"x": "independent", "y": "independent"}},
          "layer": [
            {
              "data": {"values": [
                {"d": 0.0045, "s": 0.01008}, {"d": 0.006, "s": 0.01164}, {"d": 0.01, "s": 0.01501}, {"d": 0.02, "s": 0.02119}, {"d": 0.03, "s": 0.0259},
                {"d": 0.05, "s": 0.03332}, {"d": 0.07, "s": 0.03928}, {"d": 0.1, "s": 0.0467}, {"d": 0.15, "s": 0.05667}, {"d": 0.2, "s": 0.06486},
                {"d": 0.3, "s": 0.07806}, {"d": 0.4, "s": 0.08856}, {"d": 0.5, "s": 0.09733}, {"d": 0.7, "s": 0.1113}, {"d": 1, "s": 0.1267},
                {"d": 1.5, "s": 0.1436}, {"d": 2, "s": 0.1542}, {"d": 3, "s": 0.1659}, {"d": 4, "s": 0.1712}, {"d": 5, "s": 0.1737},
                {"d": 7, "s": 0.1755}, {"d": 10, "s": 0.1759}, {"d": 15, "s": 0.176}, {"d": 24.6, "s": 0.176}
              ]},
              "mark": {"type": "line", "color": "#111", "strokeWidth": 3.3, "strokeDash": [20, 12]},
              "encoding": {
                "x": {"field": "d", "type": "quantitative", "scale": {"type": "log", "domain": [0.0031623, 31.623], "nice": false},
                      "axis": {"orient": "bottom", "values": [0.01, 0.1, 1, 10], "tickSize": -13, "labelPadding": 25, "labelFontSize": 19, "labelExpr": "'' + datum.value", "title": "Δt (year)", "titlePadding": 3}},
                "y": {"field": "s", "type": "quantitative", "scale": {"type": "log", "domain": [0.01, 0.31623], "nice": false},
                      "axis": {"orient": "left", "values": [0.01, 0.1], "tickSize": -15, "labelPadding": 33, "labelFontSize": 19, "labelExpr": "'' + datum.value", "title": "SF (mag)", "titlePadding": 20}}
              }
            },
            {
              "data": {"values": [
                {"d": 0.1, "s": 0.04756}, {"d": 0.2, "s": 0.06726}, {"d": 0.3, "s": 0.08238}, {"d": 0.5, "s": 0.1063}, {"d": 0.7, "s": 0.1258},
                {"d": 1, "s": 0.1504}, {"d": 1.5, "s": 0.1842}, {"d": 2, "s": 0.2127}, {"d": 2.54, "s": 0.2397}
              ]},
              "mark": {"type": "line", "color": "#111", "strokeWidth": 3.2, "strokeDash": [0.1, 7.3], "strokeCap": "round"},
              "encoding": {
                "x": {"field": "d", "type": "quantitative", "scale": {"type": "log", "domain": [0.0031623, 31.623], "nice": false},
                      "axis": {"orient": "bottom", "values": [0.004,0.005,0.006,0.007,0.008,0.009,0.02,0.03,0.04,0.05,0.06,0.07,0.08,0.09,0.2,0.3,0.4,0.5,0.6,0.7,0.8,0.9,2,3,4,5,6,7,8,9,20,30], "tickSize": -7, "labels": false, "title": null}},
                "y": {"field": "s", "type": "quantitative", "scale": {"type": "log", "domain": [0.01, 0.31623], "nice": false},
                      "axis": {"orient": "left", "values": [0.02,0.03,0.04,0.05,0.06,0.07,0.08,0.09,0.2,0.3], "tickSize": -7, "labels": false, "title": null}}
              }
            },
            {
              "data": {"values": [{"d1": 0.495, "d2": 1.42, "s": 0.2}]},
              "mark": {"type": "rule", "color": "#888", "strokeWidth": 1},
              "encoding": {
                "x": {"field": "d1", "type": "quantitative", "scale": {"type": "log", "domain": [0.0031623, 31.623], "nice": false},
                      "axis": {"orient": "top", "values": [0.01, 0.1, 1, 10], "tickSize": -13, "labels": false, "title": null}},
                "x2": {"field": "d2"},
                "y": {"field": "s", "type": "quantitative", "scale": {"type": "log", "domain": [0.01, 0.31623], "nice": false},
                      "axis": {"orient": "right", "values": [0.01, 0.1], "tickSize": -15, "labels": false, "title": null}}
              }
            },
            {
              "data": {"values": [{"d": 1.42, "s": 0.2}]},
              "mark": {"type": "point", "shape": "M-2,-0.5L0,0L-2,0.5", "size": 196, "filled": false, "color": "#888", "strokeWidth": 1, "opacity": 1},
              "encoding": {
                "x": {"field": "d", "type": "quantitative", "scale": {"type": "log", "domain": [0.0031623, 31.623], "nice": false},
                      "axis": {"orient": "top", "values": [0.004,0.005,0.006,0.007,0.008,0.009,0.02,0.03,0.04,0.05,0.06,0.07,0.08,0.09,0.2,0.3,0.4,0.5,0.6,0.7,0.8,0.9,2,3,4,5,6,7,8,9,20,30], "tickSize": -7, "labels": false, "title": null}},
                "y": {"field": "s", "type": "quantitative", "scale": {"type": "log", "domain": [0.01, 0.31623], "nice": false},
                      "axis": {"orient": "right", "values": [0.02,0.03,0.04,0.05,0.06,0.07,0.08,0.09,0.2,0.3], "tickSize": -7, "labels": false, "title": null}}
              }
            },
            {
              "data": {"values": [{"d": 0.00484, "s": 0.2, "label": "γ = 0.5 (DRW Δt⟨⟨ τ)"}]},
              "mark": {"type": "text", "align": "left", "baseline": "middle", "fontSize": 19},
              "encoding": {
                "text": {"field": "label"},
                "x": {"field": "d", "type": "quantitative", "scale": {"type": "log", "domain": [0.0031623, 31.623], "nice": false}, "axis": null},
                "y": {"field": "s", "type": "quantitative", "scale": {"type": "log", "domain": [0.01, 0.31623], "nice": false}, "axis": null}
              }
            },
            {
              "data": {"values": [{"d": 17.9, "s": 0.2035, "label": "SF"}]},
              "mark": {"type": "text", "align": "right", "baseline": "middle", "fontSize": 19},
              "encoding": {
                "text": {"field": "label"},
                "x": {"field": "d", "type": "quantitative", "scale": {"type": "log", "domain": [0.0031623, 31.623], "nice": false}, "axis": null},
                "y": {"field": "s", "type": "quantitative", "scale": {"type": "log", "domain": [0.01, 0.31623], "nice": false}, "axis": null}
              }
            },
            {
              "data": {"values": [{"d": 17.9, "s": 0.1929}]},
              "mark": {"type": "text", "align": "left", "baseline": "middle", "fontSize": 12, "text": "∞"},
              "encoding": {
                "x": {"field": "d", "type": "quantitative", "scale": {"type": "log", "domain": [0.0031623, 31.623], "nice": false}, "axis": null},
                "y": {"field": "s", "type": "quantitative", "scale": {"type": "log", "domain": [0.01, 0.31623], "nice": false}, "axis": null}
              }
            },
            {
              "data": {"values": [{"d": 0.042, "s": 0.0474, "label": "SF(Δt) = SF₀(Δt/Δt₀)ᵞ"}]},
              "mark": {"type": "text", "align": "center", "baseline": "middle", "fontSize": 19, "angle": -42.5},
              "encoding": {
                "text": {"field": "label"},
                "x": {"field": "d", "type": "quantitative", "scale": {"type": "log", "domain": [0.0031623, 31.623], "nice": false}, "axis": null},
                "y": {"field": "s", "type": "quantitative", "scale": {"type": "log", "domain": [0.01, 0.31623], "nice": false}, "axis": null}
              }
            },
            {
              "data": {"values": [{"d": 0.192, "s": 0.0388, "label": "SF(Δt) = SF∞(1−exp(−(|Δt|/τ)ᵝ))¹/²"}]},
              "mark": {"type": "text", "align": "center", "baseline": "middle", "fontSize": 16, "angle": -45},
              "encoding": {
                "text": {"field": "label"},
                "x": {"field": "d", "type": "quantitative", "scale": {"type": "log", "domain": [0.0031623, 31.623], "nice": false}, "axis": null},
                "y": {"field": "s", "type": "quantitative", "scale": {"type": "log", "domain": [0.01, 0.31623], "nice": false}, "axis": null}
              }
            }
          ]
        }
      ]
    }
  ]
}
